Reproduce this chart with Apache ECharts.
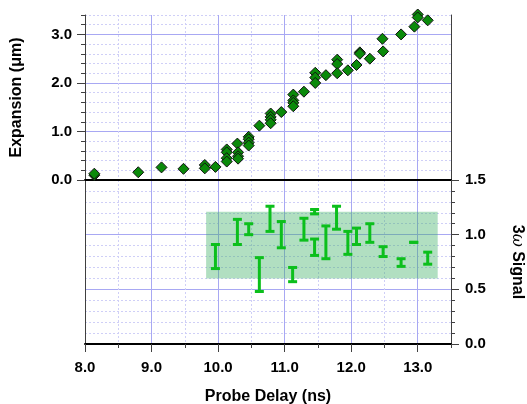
<!DOCTYPE html>
<html><head><meta charset="utf-8">
<script src="https://cdn.jsdelivr.net/npm/echarts@6/dist/echarts.min.js"></script>
<style>html,body{margin:0;padding:0;background:#fff}#c{width:527px;height:404px}</style>
</head><body><div id="c"></div>
<script>
// Expansion (top panel) diamonds
const expX = [8.14, 8.14, 8.80, 9.15, 9.48, 9.80, 9.80, 9.96,
  10.13, 10.13, 10.13, 10.13, 10.29, 10.30, 10.30, 10.30,
  10.46, 10.46, 10.46, 10.46, 10.62, 10.79, 10.79, 10.79, 10.79, 10.95,
  11.13, 11.13, 11.13, 11.13, 11.29, 11.46, 11.46, 11.46, 11.62,
  11.79, 11.79, 11.79, 11.95, 12.08, 12.13, 12.13, 12.28, 12.47, 12.48,
  12.75, 12.95, 13.00, 13.00, 13.15];
const expY = [0.10, 0.13, 0.16, 0.26, 0.23, 0.31, 0.24, 0.27,
  0.63, 0.57, 0.45, 0.38, 0.75, 0.57, 0.49, 0.44,
  0.89, 0.84, 0.77, 0.71, 1.12, 1.37, 1.30, 1.24, 1.17, 1.40,
  1.76, 1.64, 1.59, 1.52, 1.82, 2.21, 2.11, 2.00, 2.16,
  2.48, 2.39, 2.20, 2.26, 2.37, 2.63, 2.60, 2.50, 2.91, 2.65,
  3.00, 3.16, 3.41, 3.35, 3.29];

// 3ω signal (bottom panel) error bars
const sigX =    [9.96, 10.29, 10.46, 10.62, 10.78, 10.95, 11.12, 11.29, 11.45, 11.45, 11.62, 11.78, 11.95, 12.08, 12.28, 12.48, 12.75, 12.94, 13.15];
const sigLow =  [0.69, 0.91, 1.00, 0.48, 1.03, 0.88, 0.57, 0.95, 1.19, 0.81, 0.78, 1.05, 0.82, 0.91, 0.93, 0.80, 0.71, 0.93, 0.73];
const sigHigh = [0.91, 1.14, 1.10, 0.79, 1.26, 1.12, 0.70, 1.15, 1.23, 0.96, 1.08, 1.26, 1.03, 1.06, 1.10, 0.89, 0.78, 0.93, 0.84];

// shaded band
const bandX = [9.82, 13.30];
const bandY = [0.60, 1.21];

// tick labels
const xTicks = [8, 9, 10, 11, 12, 13];
const expTicks = [0, 1, 2, 3];
const sigTicks = [0, 0.5, 1, 1.5];

const FONT = 'Liberation Sans';
const MAJOR = '#a8a8f3', MINOR = '#cfcff7', AX = '#404040', NONE = 'rgba(0,0,0,0)';
const lbl = {fontFamily: FONT, fontWeight: 'bold', fontSize: 15, color: '#000'};
const nameStyle = {fontFamily: FONT, fontWeight: 'bold', fontSize: 16, color: '#000'};
const minorX = [NONE, MINOR];
const minorY = [NONE, MINOR, MINOR, MINOR, MINOR];

const chart = echarts.init(document.getElementById('c'), null, {renderer: 'canvas'});
chart.setOption({
  animation: false,
  grid: [
    {left: 85, top: 15, width: 366, height: 165, containLabel: false, outerBoundsMode: 'none'},
    {left: 85, top: 180, width: 366, height: 164, containLabel: false, outerBoundsMode: 'none'}
  ],
  xAxis: [
    {gridIndex: 0, type: 'value', min: 8, max: 13.5, interval: 0.5, position: 'bottom',
      axisLine: {show: true, onZero: false, lineStyle: {color: '#000', width: 2}},
      axisTick: {show: false}, axisLabel: {show: false},
      splitLine: {show: true, lineStyle: {color: minorX, type: [2, 2]}}},
    {gridIndex: 0, type: 'value', min: 8, max: 13.5, interval: 1, position: 'bottom',
      axisLine: {show: false}, axisTick: {show: false}, axisLabel: {show: false},
      splitLine: {show: true, lineStyle: {color: MAJOR}}},
    {gridIndex: 1, type: 'value', min: 8, max: 13.5, interval: 0.5, position: 'bottom',
      axisLine: {show: true, onZero: false, lineStyle: {color: '#000', width: 2}},
      axisTick: {show: true, length: 4, lineStyle: {color: AX}}, axisLabel: {show: false},
      splitLine: {show: true, lineStyle: {color: minorX, type: [2, 2]}}},
    {gridIndex: 1, type: 'value', min: 8, max: 13.5, interval: 1, position: 'bottom',
      axisLine: {show: false, onZero: false},
      axisTick: {show: true, customValues: xTicks, length: 8, lineStyle: {color: AX}},
      axisLabel: Object.assign({customValues: xTicks, margin: 16, formatter: v => v.toFixed(1)}, lbl),
      splitLine: {show: true, lineStyle: {color: MAJOR}},
      name: 'Probe Delay (ns)', nameLocation: 'middle', nameGap: 45, nameTextStyle: nameStyle}
  ],
  yAxis: [
    {gridIndex: 0, type: 'value', min: 0, max: 3.4, interval: 0.2, position: 'left',
      axisLine: {show: true, onZero: false, lineStyle: {color: AX, width: 1}},
      axisTick: {show: true, length: 4, lineStyle: {color: AX}}, axisLabel: {show: false},
      splitLine: {show: true, lineStyle: {color: minorY, type: [2, 2]}}},
    {gridIndex: 0, type: 'value', min: 0, max: 3.4, interval: 1, position: 'left',
      axisLine: {show: false, onZero: false},
      axisTick: {show: true, customValues: expTicks, length: 8, lineStyle: {color: AX}},
      axisLabel: Object.assign({customValues: expTicks, margin: 13, formatter: v => v.toFixed(1)}, lbl),
      splitLine: {show: true, lineStyle: {color: MAJOR}},
      name: 'Expansion (μm)', nameLocation: 'middle', nameGap: 60, nameRotate: 90, nameTextStyle: nameStyle},
    {gridIndex: 0, type: 'value', min: 0, max: 3.4, position: 'right',
      axisLine: {show: true, onZero: false, lineStyle: {color: AX, width: 1}},
      axisTick: {show: false}, axisLabel: {show: false}, splitLine: {show: false}},
    {gridIndex: 1, type: 'value', min: 0, max: 1.5, position: 'left',
      axisLine: {show: true, onZero: false, lineStyle: {color: AX, width: 1}},
      axisTick: {show: false}, axisLabel: {show: false}, splitLine: {show: false}},
    {gridIndex: 1, type: 'value', min: 0, max: 1.5, interval: 0.1, position: 'right',
      axisLine: {show: true, onZero: false, lineStyle: {color: AX, width: 1}},
      axisTick: {show: true, length: 4, lineStyle: {color: AX}}, axisLabel: {show: false},
      splitLine: {show: true, lineStyle: {color: minorY, type: [2, 2]}}},
    {gridIndex: 1, type: 'value', min: 0, max: 1.5, interval: 0.5, position: 'right',
      axisLine: {show: false, onZero: false},
      axisTick: {show: true, customValues: sigTicks, length: 8, lineStyle: {color: AX}},
      axisLabel: Object.assign({customValues: sigTicks, margin: 14, formatter: v => v.toFixed(1)}, lbl),
      splitLine: {show: true, lineStyle: {color: MAJOR}},
      name: '3{w|ω} Signal', nameLocation: 'middle', nameGap: 58, nameRotate: -90,
      nameTextStyle: Object.assign({rich: {w: {fontFamily: 'DejaVu Serif', fontStyle: 'italic', fontWeight: 'normal', fontSize: 16, color: '#000'}}}, nameStyle)}
  ],
  series: [
    {type: 'custom', xAxisIndex: 2, yAxisIndex: 4, z: 1, silent: true,
      data: [[bandX[0], bandY[0], bandX[1], bandY[1]]],
      encode: {x: [0, 2], y: [1, 3]},
      renderItem: function (params, api) {
        const p0 = api.coord([api.value(0), api.value(1)]);
        const p1 = api.coord([api.value(2), api.value(3)]);
        return {type: 'rect', shape: {x: p0[0], y: p1[1], width: p1[0] - p0[0], height: p0[1] - p1[1]},
          style: {fill: 'rgba(60,175,100,0.40)'}};
      }},
    {type: 'custom', xAxisIndex: 2, yAxisIndex: 4, z: 3, silent: true,
      data: sigX.map((x, i) => [x, sigLow[i], sigHigh[i]]),
      encode: {x: 0, y: [1, 2]},
      renderItem: function (params, api) {
        const x = api.value(0);
        const lo = api.coord([x, api.value(1)]);
        const hi = api.coord([x, api.value(2)]);
        const w = 4.5;
        const st = {stroke: '#0cbf1c', lineWidth: 3};
        return {type: 'group', children: [
          {type: 'line', shape: {x1: lo[0], y1: lo[1], x2: hi[0], y2: hi[1]}, style: st},
          {type: 'line', shape: {x1: lo[0] - w, y1: lo[1], x2: lo[0] + w, y2: lo[1]}, style: st},
          {type: 'line', shape: {x1: hi[0] - w, y1: hi[1], x2: hi[0] + w, y2: hi[1]}, style: st}
        ]};
      }},
    {type: 'scatter', xAxisIndex: 0, yAxisIndex: 0, z: 5, clip: false, silent: true,
      data: expX.map((x, i) => [x, expY[i]]),
      symbol: 'diamond', symbolSize: 11,
      itemStyle: {color: '#0a8a0a', borderColor: '#111', borderWidth: 1, opacity: 1}}
  ]
});
</script></body></html>
